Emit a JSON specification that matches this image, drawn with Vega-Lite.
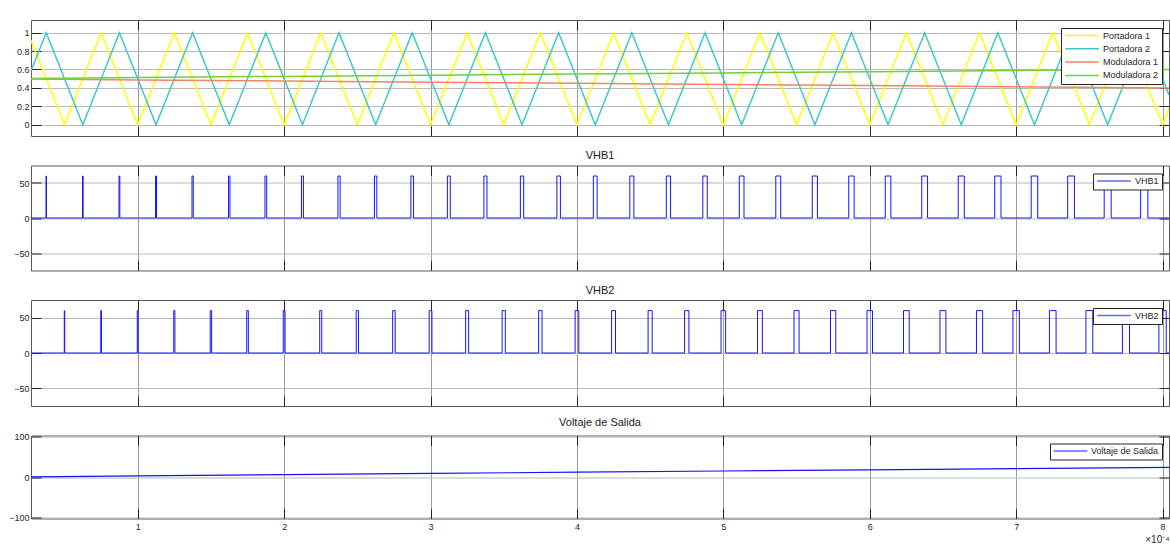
{
  "$schema": "https://vega.github.io/schema/vega-lite/v6.json",
  "background": "white",
  "padding": {"left": 8, "top": 19, "right": 2, "bottom": 2},
  "spacing": 29.5,
  "bounds": "flush",
  "resolve": {"scale": {"color": "independent"}, "legend": {"color": "independent"}},
  "config": {
    "font": "Liberation Sans",
    "view": {"stroke": "#5a5a5a", "strokeWidth": 1},
    "axis": {
      "labelFont": "Liberation Sans", "labelFontSize": 9, "labelColor": "#262626",
      "domain": false, "tickColor": "#262626", "tickSize": -10, "tickWidth": 1, "labelPadding": 12,
      "gridColor": "#b8b8b8", "gridOpacity": 1, "gridWidth": 1
    },
    "legend": {
      "orient": "top-right", "offset": 7.5, "fillColor": "white", "strokeColor": "#262626", "padding": 3,
      "symbolType": "stroke", "symbolSize": 1130, "symbolStrokeWidth": 1.5,
      "labelFont": "Liberation Sans", "labelFontSize": 9, "labelColor": "#262626", "labelOffset": 3,
      "clipHeight": 9, "rowPadding": 3.3
    },
    "title": {"font": "Liberation Sans", "fontSize": 11, "fontWeight": "normal", "color": "#1a1a1a", "offset": 4}
  },
  "datasets": {
    "carriers": [
      {"t":0.271,"v":0.916,"s":"Portadora 1"},{"t":0.5,"v":0,"s":"Portadora 1"},{"t":0.75,"v":1,"s":"Portadora 1"},{"t":1,"v":0,"s":"Portadora 1"},{"t":1.25,"v":1,"s":"Portadora 1"},{"t":1.5,"v":0,"s":"Portadora 1"},{"t":1.75,"v":1,"s":"Portadora 1"},{"t":2,"v":0,"s":"Portadora 1"},{"t":2.25,"v":1,"s":"Portadora 1"},{"t":2.5,"v":0,"s":"Portadora 1"},{"t":2.75,"v":1,"s":"Portadora 1"},{"t":3,"v":0,"s":"Portadora 1"},{"t":3.25,"v":1,"s":"Portadora 1"},{"t":3.5,"v":0,"s":"Portadora 1"},{"t":3.75,"v":1,"s":"Portadora 1"},{"t":4,"v":0,"s":"Portadora 1"},{"t":4.25,"v":1,"s":"Portadora 1"},{"t":4.5,"v":0,"s":"Portadora 1"},{"t":4.75,"v":1,"s":"Portadora 1"},{"t":5,"v":0,"s":"Portadora 1"},{"t":5.25,"v":1,"s":"Portadora 1"},{"t":5.5,"v":0,"s":"Portadora 1"},{"t":5.75,"v":1,"s":"Portadora 1"},{"t":6,"v":0,"s":"Portadora 1"},{"t":6.25,"v":1,"s":"Portadora 1"},{"t":6.5,"v":0,"s":"Portadora 1"},{"t":6.75,"v":1,"s":"Portadora 1"},{"t":7,"v":0,"s":"Portadora 1"},{"t":7.25,"v":1,"s":"Portadora 1"},{"t":7.5,"v":0,"s":"Portadora 1"},{"t":7.75,"v":1,"s":"Portadora 1"},{"t":8,"v":0,"s":"Portadora 1"},{"t":8.044,"v":0.176,"s":"Portadora 1"},
      {"t":0.271,"v":0.584,"s":"Portadora 2"},{"t":0.375,"v":1,"s":"Portadora 2"},{"t":0.625,"v":0,"s":"Portadora 2"},{"t":0.875,"v":1,"s":"Portadora 2"},{"t":1.125,"v":0,"s":"Portadora 2"},{"t":1.375,"v":1,"s":"Portadora 2"},{"t":1.625,"v":0,"s":"Portadora 2"},{"t":1.875,"v":1,"s":"Portadora 2"},{"t":2.125,"v":0,"s":"Portadora 2"},{"t":2.375,"v":1,"s":"Portadora 2"},{"t":2.625,"v":0,"s":"Portadora 2"},{"t":2.875,"v":1,"s":"Portadora 2"},{"t":3.125,"v":0,"s":"Portadora 2"},{"t":3.375,"v":1,"s":"Portadora 2"},{"t":3.625,"v":0,"s":"Portadora 2"},{"t":3.875,"v":1,"s":"Portadora 2"},{"t":4.125,"v":0,"s":"Portadora 2"},{"t":4.375,"v":1,"s":"Portadora 2"},{"t":4.625,"v":0,"s":"Portadora 2"},{"t":4.875,"v":1,"s":"Portadora 2"},{"t":5.125,"v":0,"s":"Portadora 2"},{"t":5.375,"v":1,"s":"Portadora 2"},{"t":5.625,"v":0,"s":"Portadora 2"},{"t":5.875,"v":1,"s":"Portadora 2"},{"t":6.125,"v":0,"s":"Portadora 2"},{"t":6.375,"v":1,"s":"Portadora 2"},{"t":6.625,"v":0,"s":"Portadora 2"},{"t":6.875,"v":1,"s":"Portadora 2"},{"t":7.125,"v":0,"s":"Portadora 2"},{"t":7.375,"v":1,"s":"Portadora 2"},{"t":7.625,"v":0,"s":"Portadora 2"},{"t":7.875,"v":1,"s":"Portadora 2"},{"t":8.044,"v":0.324,"s":"Portadora 2"}
    ],
    "mods": [
      {"t":0.271,"v":0.497,"s":"Moduladora 1"},{"t":1,"v":0.487,"s":"Moduladora 1"},{"t":2,"v":0.475,"s":"Moduladora 1"},{"t":3,"v":0.462,"s":"Moduladora 1"},{"t":4,"v":0.45,"s":"Moduladora 1"},{"t":5,"v":0.437,"s":"Moduladora 1"},{"t":6,"v":0.425,"s":"Moduladora 1"},{"t":7,"v":0.412,"s":"Moduladora 1"},{"t":8.044,"v":0.399,"s":"Moduladora 1"},
      {"t":0.271,"v":0.503,"s":"Moduladora 2"},{"t":1,"v":0.513,"s":"Moduladora 2"},{"t":2,"v":0.525,"s":"Moduladora 2"},{"t":3,"v":0.538,"s":"Moduladora 2"},{"t":4,"v":0.55,"s":"Moduladora 2"},{"t":5,"v":0.563,"s":"Moduladora 2"},{"t":6,"v":0.575,"s":"Moduladora 2"},{"t":7,"v":0.588,"s":"Moduladora 2"},{"t":8.044,"v":0.601,"s":"Moduladora 2"}
    ],
    "vhb1": [
      {"t":0.271,"v":0,"s":"VHB1"},
      {"t":0.3738,"v":60,"s":"VHB1"},{"t":0.3762,"v":0,"s":"VHB1"},{"t":0.623,"v":60,"s":"VHB1"},{"t":0.627,"v":0,"s":"VHB1"},{"t":0.8723,"v":60,"s":"VHB1"},{"t":0.8777,"v":0,"s":"VHB1"},{"t":1.1215,"v":60,"s":"VHB1"},{"t":1.1285,"v":0,"s":"VHB1"},{"t":1.3707,"v":60,"s":"VHB1"},{"t":1.3793,"v":0,"s":"VHB1"},{"t":1.6199,"v":60,"s":"VHB1"},{"t":1.6301,"v":0,"s":"VHB1"},{"t":1.8691,"v":60,"s":"VHB1"},{"t":1.8809,"v":0,"s":"VHB1"},{"t":2.1184,"v":60,"s":"VHB1"},{"t":2.1316,"v":0,"s":"VHB1"},{"t":2.3676,"v":60,"s":"VHB1"},{"t":2.3824,"v":0,"s":"VHB1"},{"t":2.6168,"v":60,"s":"VHB1"},{"t":2.6332,"v":0,"s":"VHB1"},{"t":2.866,"v":60,"s":"VHB1"},{"t":2.884,"v":0,"s":"VHB1"},{"t":3.1152,"v":60,"s":"VHB1"},{"t":3.1348,"v":0,"s":"VHB1"},{"t":3.3645,"v":60,"s":"VHB1"},{"t":3.3855,"v":0,"s":"VHB1"},{"t":3.6137,"v":60,"s":"VHB1"},{"t":3.6363,"v":0,"s":"VHB1"},{"t":3.8629,"v":60,"s":"VHB1"},{"t":3.8871,"v":0,"s":"VHB1"},{"t":4.1121,"v":60,"s":"VHB1"},{"t":4.1379,"v":0,"s":"VHB1"},{"t":4.3613,"v":60,"s":"VHB1"},{"t":4.3887,"v":0,"s":"VHB1"},{"t":4.6105,"v":60,"s":"VHB1"},{"t":4.6395,"v":0,"s":"VHB1"},{"t":4.8598,"v":60,"s":"VHB1"},{"t":4.8902,"v":0,"s":"VHB1"},{"t":5.109,"v":60,"s":"VHB1"},{"t":5.141,"v":0,"s":"VHB1"},{"t":5.3582,"v":60,"s":"VHB1"},{"t":5.3918,"v":0,"s":"VHB1"},{"t":5.6074,"v":60,"s":"VHB1"},{"t":5.6426,"v":0,"s":"VHB1"},{"t":5.8566,"v":60,"s":"VHB1"},{"t":5.8934,"v":0,"s":"VHB1"},{"t":6.1059,"v":60,"s":"VHB1"},{"t":6.1441,"v":0,"s":"VHB1"},{"t":6.3551,"v":60,"s":"VHB1"},{"t":6.3949,"v":0,"s":"VHB1"},{"t":6.6043,"v":60,"s":"VHB1"},{"t":6.6457,"v":0,"s":"VHB1"},{"t":6.8535,"v":60,"s":"VHB1"},{"t":6.8965,"v":0,"s":"VHB1"},{"t":7.1027,"v":60,"s":"VHB1"},{"t":7.1473,"v":0,"s":"VHB1"},{"t":7.352,"v":60,"s":"VHB1"},{"t":7.398,"v":0,"s":"VHB1"},{"t":7.6012,"v":60,"s":"VHB1"},{"t":7.6488,"v":0,"s":"VHB1"},{"t":7.8504,"v":60,"s":"VHB1"},{"t":7.8996,"v":0,"s":"VHB1"},
      {"t":8.044,"v":0,"s":"VHB1"}
    ],
    "vhb2": [
      {"t":0.271,"v":0,"s":"VHB2"},
      {"t":0.4984,"v":60,"s":"VHB2"},{"t":0.5016,"v":0,"s":"VHB2"},{"t":0.7477,"v":60,"s":"VHB2"},{"t":0.7523,"v":0,"s":"VHB2"},{"t":0.9969,"v":60,"s":"VHB2"},{"t":1.0031,"v":0,"s":"VHB2"},{"t":1.2461,"v":60,"s":"VHB2"},{"t":1.2539,"v":0,"s":"VHB2"},{"t":1.4953,"v":60,"s":"VHB2"},{"t":1.5047,"v":0,"s":"VHB2"},{"t":1.7445,"v":60,"s":"VHB2"},{"t":1.7555,"v":0,"s":"VHB2"},{"t":1.9938,"v":60,"s":"VHB2"},{"t":2.0063,"v":0,"s":"VHB2"},{"t":2.243,"v":60,"s":"VHB2"},{"t":2.257,"v":0,"s":"VHB2"},{"t":2.4922,"v":60,"s":"VHB2"},{"t":2.5078,"v":0,"s":"VHB2"},{"t":2.7414,"v":60,"s":"VHB2"},{"t":2.7586,"v":0,"s":"VHB2"},{"t":2.9906,"v":60,"s":"VHB2"},{"t":3.0094,"v":0,"s":"VHB2"},{"t":3.2398,"v":60,"s":"VHB2"},{"t":3.2602,"v":0,"s":"VHB2"},{"t":3.4891,"v":60,"s":"VHB2"},{"t":3.5109,"v":0,"s":"VHB2"},{"t":3.7383,"v":60,"s":"VHB2"},{"t":3.7617,"v":0,"s":"VHB2"},{"t":3.9875,"v":60,"s":"VHB2"},{"t":4.0125,"v":0,"s":"VHB2"},{"t":4.2367,"v":60,"s":"VHB2"},{"t":4.2633,"v":0,"s":"VHB2"},{"t":4.4859,"v":60,"s":"VHB2"},{"t":4.5141,"v":0,"s":"VHB2"},{"t":4.7352,"v":60,"s":"VHB2"},{"t":4.7648,"v":0,"s":"VHB2"},{"t":4.9844,"v":60,"s":"VHB2"},{"t":5.0156,"v":0,"s":"VHB2"},{"t":5.2336,"v":60,"s":"VHB2"},{"t":5.2664,"v":0,"s":"VHB2"},{"t":5.4828,"v":60,"s":"VHB2"},{"t":5.5172,"v":0,"s":"VHB2"},{"t":5.732,"v":60,"s":"VHB2"},{"t":5.768,"v":0,"s":"VHB2"},{"t":5.9813,"v":60,"s":"VHB2"},{"t":6.0188,"v":0,"s":"VHB2"},{"t":6.2305,"v":60,"s":"VHB2"},{"t":6.2695,"v":0,"s":"VHB2"},{"t":6.4797,"v":60,"s":"VHB2"},{"t":6.5203,"v":0,"s":"VHB2"},{"t":6.7289,"v":60,"s":"VHB2"},{"t":6.7711,"v":0,"s":"VHB2"},{"t":6.9781,"v":60,"s":"VHB2"},{"t":7.0219,"v":0,"s":"VHB2"},{"t":7.2273,"v":60,"s":"VHB2"},{"t":7.2727,"v":0,"s":"VHB2"},{"t":7.4766,"v":60,"s":"VHB2"},{"t":7.5234,"v":0,"s":"VHB2"},{"t":7.7258,"v":60,"s":"VHB2"},{"t":7.7742,"v":0,"s":"VHB2"},{"t":7.975,"v":60,"s":"VHB2"},{"t":8.025,"v":0,"s":"VHB2"},
      {"t":8.044,"v":0,"s":"VHB2"}
    ],
    "out": [
      {"t":0.271,"v":0.3,"s":"Voltaje de Salida"},{"t":1,"v":2.8,"s":"Voltaje de Salida"},{"t":2,"v":5.8,"s":"Voltaje de Salida"},{"t":3,"v":8.8,"s":"Voltaje de Salida"},{"t":4,"v":11.8,"s":"Voltaje de Salida"},{"t":5,"v":14.8,"s":"Voltaje de Salida"},{"t":6,"v":17.6,"s":"Voltaje de Salida"},{"t":7,"v":20.8,"s":"Voltaje de Salida"},{"t":8.044,"v":23.8,"s":"Voltaje de Salida"}
    ]
  },
  "vconcat": [
    {
      "width": 1138, "height": 116,
      "layer": [
        {
          "data": {"name": "carriers"},
          "mark": {"type": "line", "strokeWidth": 1.5, "clip": true},
          "encoding": {
            "x": {"field": "t", "type": "quantitative", "scale": {"domain": [0.271, 8.044], "nice": false, "zero": false},
                  "axis": {"orient": "bottom", "values": [1,2,3,4,5,6,7,8], "labels": false, "title": null, "grid": true, "gridColor": "#9a9a9a"}},
            "y": {"field": "v", "type": "quantitative", "scale": {"domain": [-0.123, 1.138], "nice": false, "zero": false},
                  "axis": {"orient": "left", "values": [0,0.2,0.4,0.6,0.8,1], "format": "~g", "title": null, "grid": true}},
            "color": {"field": "s", "type": "nominal",
                      "scale": {"domain": ["Portadora 1","Portadora 2","Moduladora 1","Moduladora 2"], "range": ["#ffff00","#3fc7c7","#f4845f","#71cf3c"]},
                      "legend": {"title": null, "symbolType": "stroke"}}
          }
        },
        {
          "data": {"name": "mods"},
          "mark": {"type": "line", "strokeWidth": 1.5, "clip": true},
          "encoding": {
            "x": {"field": "t", "type": "quantitative",
                  "axis": {"orient": "top", "values": [1,2,3,4,5,6,7,8], "labels": false, "title": null, "grid": false}},
            "y": {"field": "v", "type": "quantitative",
                  "axis": {"orient": "right", "values": [0,0.2,0.4,0.6,0.8,1], "labels": false, "title": null, "grid": false}},
            "color": {"field": "s", "type": "nominal", "legend": {"title": null, "symbolType": "stroke"}}
          }
        }
      ],
      "resolve": {"axis": {"x": "independent", "y": "independent"}}
    },
    {
      "title": "VHB1",
      "width": 1138, "height": 105,
      "layer": [
        {
          "data": {"name": "vhb1"},
          "mark": {"type": "line", "interpolate": "step-after", "strokeWidth": 1, "clip": true},
          "encoding": {
            "x": {"field": "t", "type": "quantitative", "scale": {"domain": [0.271, 8.044], "nice": false, "zero": false},
                  "axis": {"orient": "bottom", "values": [1,2,3,4,5,6,7,8], "labels": false, "title": null, "grid": true, "gridColor": "#9a9a9a"}},
            "y": {"field": "v", "type": "quantitative", "scale": {"domain": [-75, 75], "nice": false, "zero": false},
                  "axis": {"orient": "left", "values": [-50,0,50], "title": null, "grid": true}},
            "color": {"field": "s", "type": "nominal", "scale": {"range": ["#1414ff"]},
                      "legend": {"title": null, "symbolType": "stroke", "symbolStrokeWidth": 1.4, "symbolOpacity": 0.65}}
          }
        },
        {
          "data": {"name": "vhb1"},
          "mark": {"type": "point", "opacity": 0},
          "encoding": {
            "x": {"field": "t", "type": "quantitative",
                  "axis": {"orient": "top", "values": [1,2,3,4,5,6,7,8], "labels": false, "title": null, "grid": false}},
            "y": {"field": "v", "type": "quantitative",
                  "axis": {"orient": "right", "values": [-50,0,50], "labels": false, "title": null, "grid": false}}
          }
        }
      ],
      "resolve": {"axis": {"x": "independent", "y": "independent"}}
    },
    {
      "title": "VHB2",
      "width": 1138, "height": 106,
      "layer": [
        {
          "data": {"name": "vhb2"},
          "mark": {"type": "line", "interpolate": "step-after", "strokeWidth": 1, "clip": true},
          "encoding": {
            "x": {"field": "t", "type": "quantitative", "scale": {"domain": [0.271, 8.044], "nice": false, "zero": false},
                  "axis": {"orient": "bottom", "values": [1,2,3,4,5,6,7,8], "labels": false, "title": null, "grid": true, "gridColor": "#9a9a9a"}},
            "y": {"field": "v", "type": "quantitative", "scale": {"domain": [-75, 75], "nice": false, "zero": false},
                  "axis": {"orient": "left", "values": [-50,0,50], "title": null, "grid": true}},
            "color": {"field": "s", "type": "nominal", "scale": {"range": ["#1414ff"]},
                      "legend": {"title": null, "symbolType": "stroke", "symbolStrokeWidth": 1.4, "symbolOpacity": 0.65}}
          }
        },
        {
          "data": {"name": "vhb2"},
          "mark": {"type": "point", "opacity": 0},
          "encoding": {
            "x": {"field": "t", "type": "quantitative",
                  "axis": {"orient": "top", "values": [1,2,3,4,5,6,7,8], "labels": false, "title": null, "grid": false}},
            "y": {"field": "v", "type": "quantitative",
                  "axis": {"orient": "right", "values": [-50,0,50], "labels": false, "title": null, "grid": false}}
          }
        }
      ],
      "resolve": {"axis": {"x": "independent", "y": "independent"}}
    },
    {
      "title": "Voltaje de Salida",
      "width": 1138, "height": 83,
      "layer": [
        {
          "data": {"name": "out"},
          "mark": {"type": "line", "strokeWidth": 1.2, "clip": true},
          "encoding": {
            "x": {"field": "t", "type": "quantitative", "scale": {"domain": [0.271, 8.044], "nice": false, "zero": false},
                  "axis": {"orient": "bottom", "values": [1,2,3,4,5,6,7,8], "format": "d", "labelPadding": 14,
                           "title": "×10⁻⁴", "titleAnchor": "end", "titleAlign": "right", "titleFontSize": 10, "titleFontWeight": "normal",
                           "titleColor": "#262626", "titleFont": "Liberation Sans", "titlePadding": 3, "grid": true, "gridColor": "#9a9a9a"}},
            "y": {"field": "v", "type": "quantitative", "scale": {"domain": [-102, 102], "nice": false, "zero": false},
                  "axis": {"orient": "left", "values": [-100,0,100], "title": null, "grid": true}},
            "color": {"field": "s", "type": "nominal", "scale": {"range": ["#1414ff"]},
                      "legend": {"title": null, "symbolType": "stroke", "symbolStrokeWidth": 1}}
          }
        },
        {
          "data": {"name": "out"},
          "mark": {"type": "point", "opacity": 0},
          "encoding": {
            "x": {"field": "t", "type": "quantitative",
                  "axis": {"orient": "top", "values": [1,2,3,4,5,6,7,8], "labels": false, "title": null, "grid": false}},
            "y": {"field": "v", "type": "quantitative",
                  "axis": {"orient": "right", "values": [-100,0,100], "labels": false, "title": null, "grid": false}}
          }
        }
      ],
      "resolve": {"axis": {"x": "independent", "y": "independent"}}
    }
  ]
}
